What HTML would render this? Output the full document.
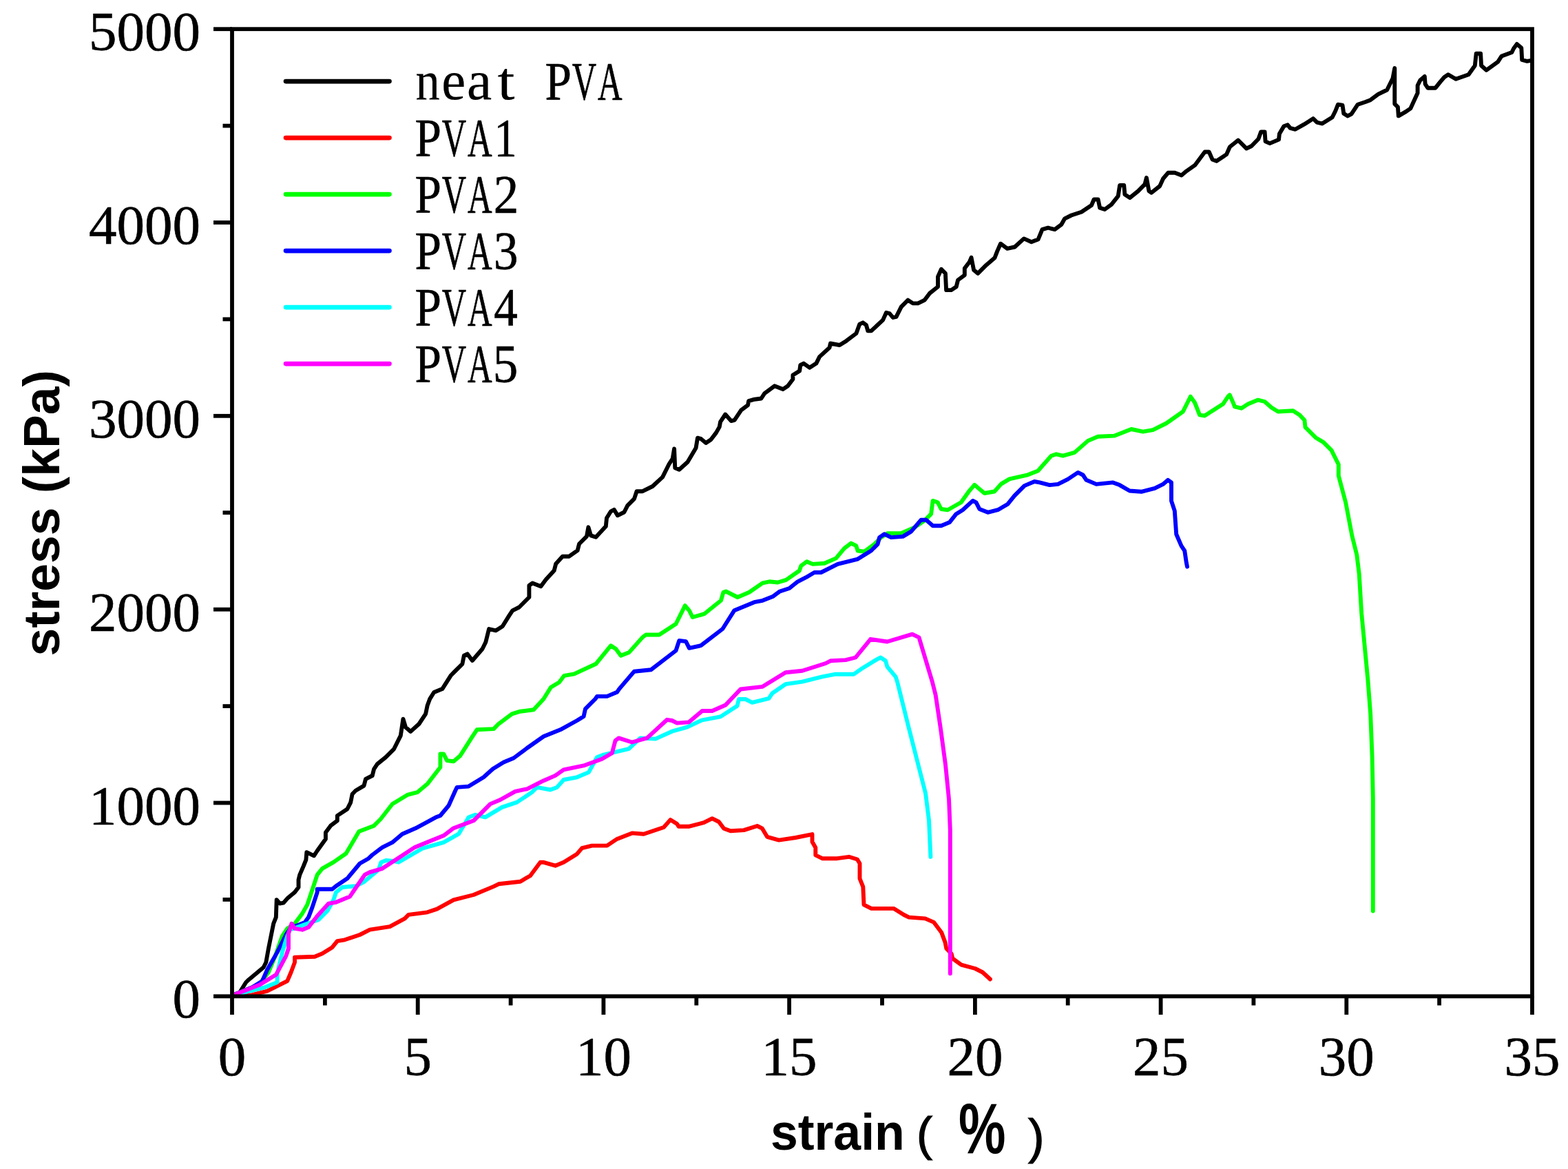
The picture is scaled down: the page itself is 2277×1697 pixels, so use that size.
<!DOCTYPE html><html><head><meta charset="utf-8"><style>html,body{margin:0;padding:0;background:#fff;overflow:hidden;}svg{display:block}</style></head><body>
<svg width="2277" height="1697" viewBox="0 0 2277 1697">
<rect x="0" y="0" width="2277" height="1697" fill="#fff"/>
<g fill="none" stroke-width="5.9" stroke-linejoin="round" stroke-linecap="round">
<polyline stroke="#000" points="337.3,1445.0 348.2,1440.5 357.2,1426.0 360.9,1422.4 382.7,1404.2 386.3,1397.0 389.9,1377.0 397.2,1340.7 400.8,1331.6 401.7,1306.2 406.3,1311.6 411.7,1310.7 417.2,1304.3 428.0,1295.3 433.5,1288.0 433.5,1277.1 435.3,1269.8 440.8,1257.1 444.4,1248.1 445.3,1237.2 455.9,1242.3 460.7,1235.0 472.9,1218.0 472.9,1208.4 480.1,1198.7 489.8,1191.4 489.8,1184.1 504.3,1174.5 509.2,1164.8 511.6,1152.7 516.4,1147.8 528.5,1140.6 531.0,1130.9 540.7,1126.0 543.1,1116.3 547.9,1109.1 560.0,1099.4 572.1,1087.3 581.8,1067.9 585.4,1043.7 589.1,1055.8 596.3,1061.9 608.4,1051.0 618.1,1036.4 620.6,1024.3 624.2,1014.6 630.2,1005.0 642.3,1000.1 654.5,980.8 659.3,975.9 671.4,963.8 673.8,951.7 678.7,949.3 685.9,959.0 700.5,942.0 705.3,932.3 707.7,922.6 710.1,913.0 719.8,915.4 729.7,909.3 739.4,893.6 744.2,886.3 753.9,881.5 768.4,867.0 768.4,850.0 773.3,846.4 785.4,851.2 792.6,841.5 804.7,828.2 807.2,818.5 816.9,807.7 826.5,807.7 838.6,799.2 841.1,789.5 852.0,778.6 854.4,765.3 858.0,777.4 865.3,779.8 879.8,764.1 881.0,752.0 887.1,742.3 891.9,739.9 896.8,748.3 906.4,743.5 911.3,733.8 921.0,724.1 924.6,713.2 933.1,713.2 947.6,706.0 962.1,692.6 971.8,673.3 976.7,666.0 979.1,651.5 980.3,679.3 986.3,681.7 998.5,670.8 1010.6,650.3 1013.0,635.7 1017.8,636.9 1025.1,643.0 1032.3,638.2 1040.0,628.1 1044.8,619.6 1046.1,612.3 1053.3,601.5 1061.8,611.1 1066.6,609.9 1076.3,595.4 1086.0,588.1 1087.2,582.1 1095.7,579.7 1105.4,578.5 1110.2,571.2 1124.7,560.3 1136.9,565.1 1144.1,560.3 1151.4,550.6 1151.4,544.6 1161.1,538.5 1162.3,530.0 1167.1,527.6 1175.6,533.7 1185.3,527.6 1190.1,517.9 1204.6,504.6 1205.9,498.5 1219.2,501.0 1228.9,494.9 1243.4,484.0 1248.2,470.7 1253.1,468.3 1257.9,471.9 1260.3,480.4 1265.2,480.4 1282.1,464.6 1287.0,453.8 1291.8,455.0 1296.7,461.0 1301.5,459.8 1308.8,445.3 1318.5,435.6 1325.7,440.4 1333.0,440.4 1342.7,435.6 1349.9,425.9 1362.0,416.2 1362.0,401.7 1366.9,390.8 1372.9,396.9 1374.1,421.1 1381.4,421.1 1388.7,416.2 1391.1,406.5 1400.8,399.3 1400.8,389.6 1408.0,379.9 1410.5,373.8 1414.1,392.0 1420.1,396.9 1432.3,384.7 1444.5,374.2 1448.2,364.6 1453.0,353.7 1462.7,360.9 1473.6,358.5 1486.9,346.4 1497.8,351.2 1507.5,347.6 1513.5,333.1 1522.0,330.7 1531.7,333.1 1541.4,325.8 1546.2,317.3 1555.9,312.5 1570.4,307.7 1585.0,298.0 1588.6,289.5 1594.6,289.5 1597.1,301.6 1604.3,304.0 1614.0,296.8 1623.7,284.6 1626.1,268.9 1632.2,268.9 1633.4,282.2 1640.7,287.1 1652.8,277.4 1662.4,267.7 1664.9,258.0 1668.5,277.4 1672.1,279.8 1684.2,270.1 1689.1,259.2 1696.4,250.8 1706.0,250.8 1715.7,254.4 1723.0,248.3 1735.1,239.9 1749.6,220.5 1755.7,220.5 1760.5,231.4 1766.6,233.8 1781.1,224.1 1785.9,213.2 1798.0,203.5 1810.1,215.6 1817.4,212.0 1827.4,201.7 1831.1,191.5 1836.6,191.5 1837.6,205.4 1844.0,208.1 1857.0,202.6 1857.9,194.3 1864.4,183.2 1869.9,181.3 1873.6,185.9 1881.0,187.8 1894.0,180.4 1901.4,175.8 1906.9,172.1 1912.5,177.6 1919.9,179.5 1934.7,170.2 1939.3,161.0 1943.0,151.7 1949.5,152.6 1951.3,164.7 1956.9,168.4 1962.4,165.6 1971.7,151.7 1982.8,148.0 1990.1,145.2 2001.2,136.9 2014.2,130.5 2022.5,113.8 2025.3,99.0 2025.3,150.8 2029.9,155.4 2030.8,168.4 2041.9,161.9 2048.4,157.3 2058.6,135.1 2058.6,124.0 2062.3,116.6 2068.8,111.0 2069.7,122.1 2073.4,127.7 2084.5,127.7 2091.9,118.4 2097.4,112.0 2103.0,108.3 2114.1,114.7 2132.6,108.3 2141.8,95.3 2143.7,77.7 2150.1,77.7 2151.1,95.3 2158.4,101.8 2175.1,89.8 2180.6,81.4 2195.4,75.9 2198.2,70.3 2202.8,63.9 2209.3,69.4 2210.2,87.0 2217.6,88.8 2223.2,87.9"/>
<polyline stroke="#f00" points="337.3,1445.0 366.3,1444.2 388.1,1438.7 417.2,1424.2 422.6,1411.5 428.0,1397.0 428.0,1389.7 457.1,1388.8 468.0,1384.3 482.5,1375.2 489.8,1366.1 500.7,1364.3 522.5,1357.0 537.0,1349.7 566.1,1345.2 587.9,1333.4 593.3,1327.9 620.5,1324.3 634.5,1319.6 658.7,1306.3 687.8,1299.0 716.9,1286.9 724.1,1283.3 755.6,1279.7 770.1,1271.2 784.6,1251.8 789.5,1251.8 806.4,1256.7 818.5,1251.8 837.9,1239.7 845.2,1231.2 859.7,1227.6 881.5,1227.6 896.0,1217.9 917.8,1209.4 934.8,1210.7 963.8,1201.0 973.5,1190.1 983.2,1196.1 985.6,1199.8 1000.1,1199.8 1022.1,1194.2 1034.2,1188.1 1043.9,1193.0 1051.2,1202.7 1060.8,1206.3 1080.2,1205.1 1099.6,1199.0 1106.9,1202.7 1114.1,1214.8 1131.1,1219.6 1155.3,1216.0 1179.5,1211.1 1179.5,1222.0 1184.3,1230.5 1184.3,1241.4 1194.0,1246.2 1215.8,1246.2 1232.8,1243.8 1244.9,1247.5 1248.5,1253.5 1248.5,1275.3 1253.3,1287.4 1254.5,1313.4 1265.4,1318.9 1298.1,1318.9 1312.6,1328.0 1319.9,1331.6 1343.5,1333.4 1356.2,1338.9 1367.1,1353.4 1372.5,1367.9 1374.3,1377.0 1381.6,1384.3 1383.4,1391.5 1396.1,1400.6 1416.1,1406.0 1427.0,1411.5 1437.9,1421.5"/>
<polyline stroke="#0f0" points="337.3,1445.0 366.3,1433.3 377.2,1427.8 389.9,1411.5 399.0,1389.7 409.9,1358.8 417.2,1347.9 428.0,1340.7 439.0,1326.1 446.2,1313.4 455.3,1286.2 460.7,1269.8 468.0,1260.8 484.3,1251.7 502.5,1239.0 521.3,1207.1 543.1,1198.7 552.8,1189.0 569.7,1167.2 591.5,1153.9 606.0,1150.2 620.6,1138.1 639.4,1113.8 639.4,1094.4 644.2,1094.4 649.1,1104.1 658.7,1105.3 668.4,1096.9 685.4,1070.2 692.6,1059.3 716.9,1058.1 724.1,1050.8 743.5,1036.3 755.6,1032.7 775.0,1030.3 789.5,1014.5 799.9,997.7 812.0,990.5 819.3,980.8 833.8,978.4 865.3,963.8 887.1,937.2 894.3,942.0 901.6,951.7 913.7,946.9 933.1,925.1 937.9,921.5 957.3,921.5 981.5,905.7 994.8,879.1 1000.9,886.3 1005.7,896.0 1022.7,891.2 1046.9,871.8 1050.5,859.7 1054.1,858.5 1071.1,867.0 1088.0,859.7 1107.4,846.4 1117.3,844.3 1129.4,845.5 1141.5,841.9 1160.8,828.5 1163.3,821.3 1171.7,815.2 1180.2,818.9 1197.2,817.7 1214.1,810.4 1226.2,795.9 1235.9,788.6 1243.2,792.2 1245.6,799.5 1255.3,800.7 1269.8,789.8 1279.5,780.1 1289.2,774.1 1308.5,774.1 1327.9,765.6 1342.4,755.9 1352.1,746.2 1354.6,726.9 1361.8,729.3 1366.7,739.0 1376.3,740.2 1395.7,729.3 1407.8,712.3 1415.1,703.8 1422.4,709.9 1429.6,716.0 1444.1,713.5 1453.8,702.6 1465.9,695.4 1492.6,689.3 1507.3,683.5 1526.6,661.7 1533.9,659.3 1543.6,661.7 1560.5,656.9 1579.9,639.9 1594.4,633.8 1618.6,632.6 1642.9,623.0 1659.8,626.6 1674.3,624.2 1693.7,614.5 1717.9,597.5 1728.8,575.7 1734.9,584.2 1742.1,602.4 1749.4,603.6 1776.0,586.6 1783.3,575.7 1785.7,573.3 1790.6,584.2 1793.0,590.3 1802.7,592.7 1812.3,586.6 1826.9,580.6 1836.6,583.0 1846.2,591.5 1855.9,597.5 1877.7,596.3 1887.4,602.4 1894.4,609.9 1895.5,620.2 1910.5,635.2 1922.0,642.1 1933.5,653.6 1943.8,674.3 1943.8,690.4 1954.2,729.5 1963.4,777.8 1970.3,805.4 1973.7,833.0 1977.2,890.5 1986.5,988.4 1990.2,1036.9 1992.6,1097.4 1993.8,1157.9 1993.8,1322.6"/>
<polyline stroke="#00f" points="337.3,1445.0 366.3,1433.3 380.8,1424.2 388.1,1407.8 402.6,1382.4 415.3,1357.0 422.6,1346.1 431.7,1343.4 442.6,1338.9 448.0,1331.6 453.5,1317.1 460.7,1295.3 460.7,1290.7 482.5,1290.7 488.0,1286.2 504.3,1275.3 522.5,1253.5 535.2,1246.2 540.7,1241.0 555.2,1230.1 569.7,1222.9 584.2,1210.8 603.6,1202.3 632.7,1186.6 639.4,1184.0 651.5,1169.5 661.2,1147.7 663.6,1142.9 680.5,1141.6 702.3,1128.3 715.6,1116.2 731.4,1106.5 745.9,1100.5 765.3,1086.0 789.5,1069.0 813.7,1059.3 837.9,1046.0 847.6,1040.0 850.0,1029.1 864.6,1014.5 867.0,1010.9 881.5,1010.9 896.0,1004.8 899.2,1000.1 921.0,974.7 945.2,972.3 981.5,944.5 986.3,929.9 996.0,931.1 1000.9,940.8 1017.8,937.2 1049.3,913.0 1066.2,886.3 1095.3,874.2 1107.4,871.8 1122.1,866.1 1131.8,858.8 1146.3,854.0 1158.4,844.3 1170.5,838.2 1182.6,831.0 1192.3,831.0 1216.5,818.9 1245.6,811.6 1265.0,799.5 1274.6,789.8 1277.1,780.1 1284.3,775.3 1294.0,780.1 1311.0,778.9 1323.1,771.6 1337.6,754.7 1344.9,754.7 1354.6,763.2 1366.7,763.2 1378.8,758.3 1388.5,746.2 1398.1,740.2 1412.7,726.9 1417.5,729.3 1422.4,739.0 1434.5,743.8 1449.0,740.2 1463.5,731.7 1473.2,719.6 1487.7,705.1 1502.2,699.0 1509.7,700.4 1524.2,704.1 1536.3,702.9 1550.8,695.6 1565.4,685.9 1572.6,689.5 1577.5,696.8 1592.0,702.9 1616.2,700.4 1625.9,704.1 1640.4,712.5 1657.4,713.8 1676.8,708.9 1688.9,702.9 1696.1,696.8 1701.0,700.4 1701.0,727.1 1705.8,741.6 1708.2,775.5 1715.5,792.4 1720.3,799.7 1722.8,816.7 1724.0,822.7"/>
<polyline stroke="#0ff" points="337.3,1445.0 384.5,1433.3 402.6,1426.0 402.6,1413.3 409.9,1382.4 415.3,1364.3 420.8,1349.7 431.7,1346.1 446.2,1340.7 462.6,1335.2 475.3,1322.5 484.3,1306.2 488.0,1295.3 497.1,1288.0 517.0,1286.2 527.9,1280.7 549.7,1262.6 553.4,1251.7 560.6,1249.0 571.5,1249.9 578.8,1251.7 613.3,1231.7 644.2,1222.8 666.0,1210.7 680.5,1186.4 690.2,1182.8 704.7,1186.4 729.0,1171.9 750.7,1164.6 772.5,1150.1 779.8,1142.9 799.2,1146.5 808.9,1142.9 818.5,1132.0 837.9,1128.3 854.9,1121.1 867.0,1099.3 876.7,1095.6 913.0,1087.2 929.9,1071.4 951.7,1072.6 975.9,1061.7 997.7,1055.7 1019.7,1045.3 1046.3,1040.4 1070.5,1024.7 1073.0,1015.0 1082.6,1015.0 1092.3,1019.9 1116.5,1013.8 1121.4,1006.5 1140.7,993.2 1165.0,989.6 1194.0,982.3 1213.4,978.7 1240.0,978.7 1252.1,970.2 1273.9,956.9 1278.8,954.5 1286.0,959.3 1288.4,967.8 1300.6,982.3 1303.0,989.6 1319.9,1057.4 1344.1,1151.8 1349.0,1190.6 1351.4,1243.8"/>
<polyline stroke="#f0f" points="337.3,1445.0 377.2,1429.6 400.8,1415.1 415.3,1387.9 419.0,1377.0 419.0,1355.2 423.5,1340.7 428.0,1347.9 439.0,1349.7 448.0,1346.1 460.7,1329.8 477.1,1311.6 488.0,1309.8 508.0,1301.6 529.7,1269.8 537.0,1266.2 555.2,1260.8 573.3,1249.0 602.4,1229.9 620.0,1222.8 644.2,1213.1 658.7,1202.2 687.8,1191.3 712.0,1167.1 726.5,1161.0 748.3,1148.9 765.3,1145.3 789.5,1133.2 806.4,1125.9 818.5,1117.4 847.6,1111.4 874.2,1101.7 888.8,1093.2 893.6,1075.1 898.5,1071.4 917.8,1077.5 939.6,1071.4 968.7,1044.8 975.9,1046.0 983.2,1049.6 1000.1,1048.4 1019.7,1032.0 1034.2,1032.0 1053.6,1023.5 1075.4,1000.5 1106.9,996.9 1140.7,976.3 1165.0,973.8 1198.9,963.0 1206.1,959.3 1227.9,958.1 1242.4,954.5 1264.2,927.8 1288.4,931.5 1324.8,920.6 1334.5,925.4 1353.8,989.6 1358.7,1009.0 1365.9,1057.4 1373.0,1110.0 1378.0,1160.0 1379.8,1204.5 1379.8,1413.3"/>
</g>
<g stroke="#000" stroke-width="5.8" fill="none">
<rect x="337.0" y="42.2" width="1888.0" height="1404.1" />
<line x1="310" y1="1446.3" x2="337.0" y2="1446.3"/>
<line x1="323.5" y1="1305.9" x2="337.0" y2="1305.9"/>
<line x1="310" y1="1165.5" x2="337.0" y2="1165.5"/>
<line x1="323.5" y1="1025.1" x2="337.0" y2="1025.1"/>
<line x1="310" y1="884.7" x2="337.0" y2="884.7"/>
<line x1="323.5" y1="744.2" x2="337.0" y2="744.2"/>
<line x1="310" y1="603.8" x2="337.0" y2="603.8"/>
<line x1="323.5" y1="463.4" x2="337.0" y2="463.4"/>
<line x1="310" y1="323.0" x2="337.0" y2="323.0"/>
<line x1="323.5" y1="182.6" x2="337.0" y2="182.6"/>
<line x1="310" y1="42.2" x2="337.0" y2="42.2"/>
<line x1="337.0" y1="1446.3" x2="337.0" y2="1473"/>
<line x1="471.9" y1="1446.3" x2="471.9" y2="1459.5"/>
<line x1="606.7" y1="1446.3" x2="606.7" y2="1473"/>
<line x1="741.6" y1="1446.3" x2="741.6" y2="1459.5"/>
<line x1="876.4" y1="1446.3" x2="876.4" y2="1473"/>
<line x1="1011.3" y1="1446.3" x2="1011.3" y2="1459.5"/>
<line x1="1146.1" y1="1446.3" x2="1146.1" y2="1473"/>
<line x1="1281.0" y1="1446.3" x2="1281.0" y2="1459.5"/>
<line x1="1415.9" y1="1446.3" x2="1415.9" y2="1473"/>
<line x1="1550.7" y1="1446.3" x2="1550.7" y2="1459.5"/>
<line x1="1685.6" y1="1446.3" x2="1685.6" y2="1473"/>
<line x1="1820.4" y1="1446.3" x2="1820.4" y2="1459.5"/>
<line x1="1955.3" y1="1446.3" x2="1955.3" y2="1473"/>
<line x1="2090.1" y1="1446.3" x2="2090.1" y2="1459.5"/>
<line x1="2225.0" y1="1446.3" x2="2225.0" y2="1473"/>
</g>
<g font-family="Liberation Serif, serif" font-size="81" fill="#000" stroke="#000" stroke-width="0.6">
<text x="291" y="1477.3" text-anchor="end">0</text>
<text x="291" y="1196.5" text-anchor="end">1000</text>
<text x="291" y="915.7" text-anchor="end">2000</text>
<text x="291" y="634.8" text-anchor="end">3000</text>
<text x="291" y="354.0" text-anchor="end">4000</text>
<text x="291" y="73.2" text-anchor="end">5000</text>
<text x="337.0" y="1561" text-anchor="middle">0</text>
<text x="606.7" y="1561" text-anchor="middle">5</text>
<text x="876.4" y="1561" text-anchor="middle">10</text>
<text x="1146.1" y="1561" text-anchor="middle">15</text>
<text x="1415.9" y="1561" text-anchor="middle">20</text>
<text x="1685.6" y="1561" text-anchor="middle">25</text>
<text x="1955.3" y="1561" text-anchor="middle">30</text>
<text x="2225.0" y="1561" text-anchor="middle">35</text>
</g>
<g>
<line x1="415" y1="118.1" x2="565.5" y2="118.1" stroke="#000" stroke-width="6.6" stroke-linecap="round"/>
<text transform="translate(621.4,144.1) scale(0.916,1.04)" x="-19.5" y="0" font-family="Liberation Serif, serif" font-size="77" fill="#000" stroke="#000" stroke-width="0.2">n</text>
<text transform="translate(659.2,144.1) scale(1.021,1.04)" x="-17.5" y="0" font-family="Liberation Serif, serif" font-size="77" fill="#000" stroke="#000" stroke-width="0.2">e</text>
<text transform="translate(697.0,144.1) scale(1.059,1.04)" x="-18.0" y="0" font-family="Liberation Serif, serif" font-size="77" fill="#000" stroke="#000" stroke-width="0.2">a</text>
<text transform="translate(734.8,144.1) scale(1.167,1.03)" x="-10.5" y="0" font-family="Liberation Serif, serif" font-size="77" fill="#000" stroke="#000" stroke-width="0.2">t</text>
<text transform="translate(810.4,144.1) scale(0.897,1.02)" x="-21.0" y="0" font-family="Liberation Serif, serif" font-size="77" fill="#000" stroke="#000" stroke-width="0.7">P</text>
<text transform="translate(848.2,144.1) scale(0.636,1.02)" x="-27.5" y="0" font-family="Liberation Serif, serif" font-size="77" fill="#000" stroke="#000" stroke-width="0.7">V</text>
<text transform="translate(886.0,144.1) scale(0.639,1.02)" x="-28.0" y="0" font-family="Liberation Serif, serif" font-size="77" fill="#000" stroke="#000" stroke-width="0.7">A</text>
<line x1="415" y1="200.1" x2="565.5" y2="200.1" stroke="#f00" stroke-width="6.6" stroke-linecap="round"/>
<text transform="translate(621.4,226.1) scale(0.897,1.02)" x="-21.0" y="0" font-family="Liberation Serif, serif" font-size="77" fill="#000" stroke="#000" stroke-width="0.7">P</text>
<text transform="translate(659.2,226.1) scale(0.636,1.02)" x="-27.5" y="0" font-family="Liberation Serif, serif" font-size="77" fill="#000" stroke="#000" stroke-width="0.7">V</text>
<text transform="translate(697.0,226.1) scale(0.639,1.02)" x="-28.0" y="0" font-family="Liberation Serif, serif" font-size="77" fill="#000" stroke="#000" stroke-width="0.7">A</text>
<text transform="translate(734.8,226.1) scale(0.861,1.02)" x="-20.0" y="0" font-family="Liberation Serif, serif" font-size="77" fill="#000" stroke="#000" stroke-width="0.7">1</text>
<line x1="415" y1="282.1" x2="565.5" y2="282.1" stroke="#0f0" stroke-width="6.6" stroke-linecap="round"/>
<text transform="translate(621.4,308.1) scale(0.897,1.02)" x="-21.0" y="0" font-family="Liberation Serif, serif" font-size="77" fill="#000" stroke="#000" stroke-width="0.7">P</text>
<text transform="translate(659.2,308.1) scale(0.636,1.02)" x="-27.5" y="0" font-family="Liberation Serif, serif" font-size="77" fill="#000" stroke="#000" stroke-width="0.7">V</text>
<text transform="translate(697.0,308.1) scale(0.639,1.02)" x="-28.0" y="0" font-family="Liberation Serif, serif" font-size="77" fill="#000" stroke="#000" stroke-width="0.7">A</text>
<text transform="translate(734.8,308.1) scale(0.947,1.02)" x="-19.0" y="0" font-family="Liberation Serif, serif" font-size="77" fill="#000" stroke="#000" stroke-width="0.7">2</text>
<line x1="415" y1="364.1" x2="565.5" y2="364.1" stroke="#00f" stroke-width="6.6" stroke-linecap="round"/>
<text transform="translate(621.4,390.1) scale(0.897,1.02)" x="-21.0" y="0" font-family="Liberation Serif, serif" font-size="77" fill="#000" stroke="#000" stroke-width="0.7">P</text>
<text transform="translate(659.2,390.1) scale(0.636,1.02)" x="-27.5" y="0" font-family="Liberation Serif, serif" font-size="77" fill="#000" stroke="#000" stroke-width="0.7">V</text>
<text transform="translate(697.0,390.1) scale(0.639,1.02)" x="-28.0" y="0" font-family="Liberation Serif, serif" font-size="77" fill="#000" stroke="#000" stroke-width="0.7">A</text>
<text transform="translate(734.8,390.1) scale(0.918,1.02)" x="-19.5" y="0" font-family="Liberation Serif, serif" font-size="77" fill="#000" stroke="#000" stroke-width="0.7">3</text>
<line x1="415" y1="446.1" x2="565.5" y2="446.1" stroke="#0ff" stroke-width="6.6" stroke-linecap="round"/>
<text transform="translate(621.4,472.1) scale(0.897,1.02)" x="-21.0" y="0" font-family="Liberation Serif, serif" font-size="77" fill="#000" stroke="#000" stroke-width="0.7">P</text>
<text transform="translate(659.2,472.1) scale(0.636,1.02)" x="-27.5" y="0" font-family="Liberation Serif, serif" font-size="77" fill="#000" stroke="#000" stroke-width="0.7">V</text>
<text transform="translate(697.0,472.1) scale(0.639,1.02)" x="-28.0" y="0" font-family="Liberation Serif, serif" font-size="77" fill="#000" stroke="#000" stroke-width="0.7">A</text>
<text transform="translate(734.8,472.1) scale(0.897,1.02)" x="-19.5" y="0" font-family="Liberation Serif, serif" font-size="77" fill="#000" stroke="#000" stroke-width="0.7">4</text>
<line x1="415" y1="528.1" x2="565.5" y2="528.1" stroke="#f0f" stroke-width="6.6" stroke-linecap="round"/>
<text transform="translate(621.4,554.1) scale(0.897,1.02)" x="-21.0" y="0" font-family="Liberation Serif, serif" font-size="77" fill="#000" stroke="#000" stroke-width="0.7">P</text>
<text transform="translate(659.2,554.1) scale(0.636,1.02)" x="-27.5" y="0" font-family="Liberation Serif, serif" font-size="77" fill="#000" stroke="#000" stroke-width="0.7">V</text>
<text transform="translate(697.0,554.1) scale(0.639,1.02)" x="-28.0" y="0" font-family="Liberation Serif, serif" font-size="77" fill="#000" stroke="#000" stroke-width="0.7">A</text>
<text transform="translate(734.8,554.1) scale(0.947,1.02)" x="-20.0" y="0" font-family="Liberation Serif, serif" font-size="77" fill="#000" stroke="#000" stroke-width="0.7">5</text>
</g>
<text transform="translate(1118.9,1669.4) scale(0.967,1)" x="0" y="0" font-family="Liberation Sans, sans-serif" font-weight="bold" font-size="74" fill="#000">strain</text>
<text x="1330.9" y="1669.9" font-family="Liberation Sans, sans-serif" font-size="69.2" fill="#000" stroke="#000" stroke-width="1.2">(</text>
<text transform="translate(1392,1674) scale(0.742,1)" x="0" y="0" font-family="Liberation Sans, sans-serif" font-weight="bold" font-size="103.8" fill="#000">%</text>
<text x="1492.9" y="1673.6" font-family="Liberation Sans, sans-serif" font-size="70.6" fill="#000" stroke="#000" stroke-width="1.2">)</text>
<text transform="translate(85.8,952.4) rotate(-90) scale(0.99,1)" font-family="Liberation Sans, sans-serif" font-weight="bold" font-size="74" fill="#000">stress (kPa)</text>
</svg></body></html>
